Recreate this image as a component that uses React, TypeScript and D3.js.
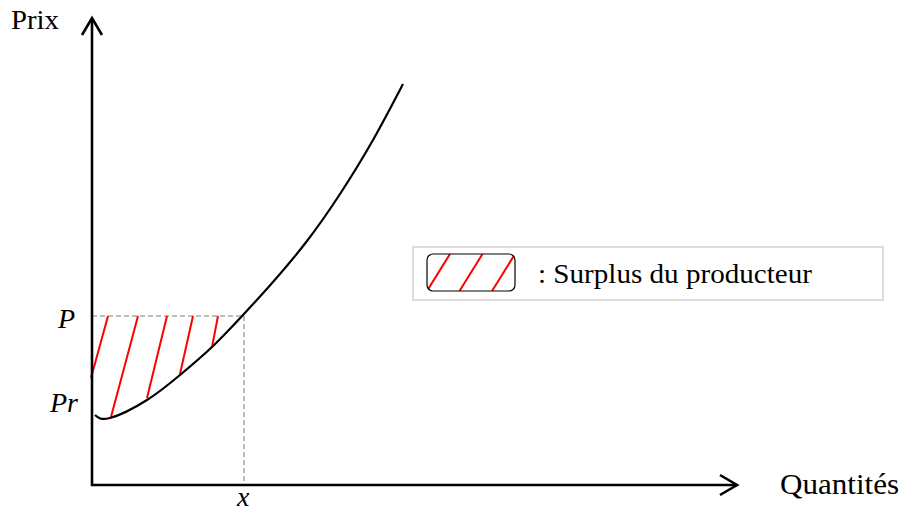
import React from "react";
import * as d3 from "d3";

// Supply curve (quantity, price) in chart units
const curveQ = [3, 18, 55, 88, 120, 151, 181, 215, 248, 281, 311];
const curveP = [70, 67, 85, 110, 138, 170, 203, 244, 291, 345, 401];

// Equilibrium
const priceP = 169;
const quantityX = 152;

// Hatching segments (top on price P, bottom on the curve / axis)
const hatchTopQ = [16, 46, 75, 101, 126];
const hatchBotQ = [-1, 19, 55, 88, 120];
const hatchBotP = [107, 68, 87, 111, 138];

// Labels
const yAxisLabel = "Prix";
const xAxisLabel = "Quantités";
const labelP = "P";
const labelPr = "Pr";
const labelX = "x";
const legendLabel = ": Surplus du producteur";
const labelPrPrice = 72;

const W = 902;
const H = 513;

export default function App() {
  const x = d3.scaleLinear().domain([0, 645]).range([92, 737]);
  const y = d3.scaleLinear().domain([0, 467]).range([485, 18]);

  const pts: [number, number][] = curveQ.map((q, i) => [q, curveP[i]]);
  const line = d3
    .line<[number, number]>()
    .x((d) => x(d[0]))
    .y((d) => y(d[1]))
    .curve(d3.curveNatural);

  const serif = "'Liberation Serif', 'Times New Roman', Times, serif";
  const x0 = x(0);
  const y0 = y(0);
  const xEnd = x(645);
  const yEnd = y(467);

  // legend geometry
  const lg = { x: 413, y: 247, w: 470, h: 53 };
  const sw = { x: 427, y: 254, w: 88, h: 37 };
  const swLines = [0, 1, 2].map((i) => ({
    x1: sw.x + i * 32.5,
    y1: sw.y + sw.h,
    x2: sw.x + 23 + i * 32.5,
    y2: sw.y,
  }));

  return (
    <svg
      width={W}
      height={H}
      style={{ position: "absolute", left: 0, top: 0, background: "#fff" }}
    >
      <defs>
        <clipPath id="swclip">
          <rect x={sw.x} y={sw.y} width={sw.w} height={sw.h} rx={6} />
        </clipPath>
      </defs>

      {/* dashed guides */}
      <line
        x1={x0}
        x2={x(quantityX)}
        y1={y(priceP)}
        y2={y(priceP)}
        stroke="#aaa"
        strokeWidth={1.6}
        strokeDasharray="5,3"
      />
      <line
        x1={x(quantityX)}
        x2={x(quantityX)}
        y1={y(priceP)}
        y2={y0}
        stroke="#aaa"
        strokeWidth={1.6}
        strokeDasharray="5,3"
      />

      {/* hatching */}
      {hatchTopQ.map((q, i) => (
        <line
          key={i}
          x1={x(q)}
          y1={y(priceP)}
          x2={x(hatchBotQ[i])}
          y2={y(hatchBotP[i])}
          stroke="#ff0000"
          strokeWidth={2}
        />
      ))}

      {/* curve */}
      <path d={line(pts) || ""} fill="none" stroke="#000" strokeWidth={2.2} />

      {/* axes */}
      <line x1={x0} x2={x0} y1={y0 + 1} y2={yEnd} stroke="#000" strokeWidth={2.6} />
      <line x1={x0 - 1} x2={xEnd} y1={y0} y2={y0} stroke="#000" strokeWidth={2.6} />
      <polyline
        points={`${x0 - 10},${yEnd + 17} ${x0},${yEnd} ${x0 + 10},${yEnd + 17}`}
        fill="none"
        stroke="#000"
        strokeWidth={2.6}
      />
      <polyline
        points={`${xEnd - 17},${y0 - 10} ${xEnd},${y0} ${xEnd - 17},${y0 + 10}`}
        fill="none"
        stroke="#000"
        strokeWidth={2.6}
      />

      {/* axis labels */}
      <text x={11} y={29} fontFamily={serif} fontSize={28} textLength={48} lengthAdjust="spacingAndGlyphs">
        {yAxisLabel}
      </text>
      <text x={780} y={494} fontFamily={serif} fontSize={30} textLength={119} lengthAdjust="spacingAndGlyphs">
        {xAxisLabel}
      </text>
      <text x={x0 - 34} y={y(priceP) + 12} fontFamily={serif} fontSize={28} fontStyle="italic">
        {labelP}
      </text>
      <text x={x0 - 42} y={y(labelPrPrice) - 1} fontFamily={serif} fontSize={28} fontStyle="italic">
        {labelPr}
      </text>
      <text x={x(quantityX) - 7} y={506} fontFamily={serif} fontSize={28} fontStyle="italic">
        {labelX}
      </text>

      {/* legend */}
      <rect x={lg.x} y={lg.y} width={lg.w} height={lg.h} fill="#fff" stroke="#ddd" strokeWidth={2} />
      <g clipPath="url(#swclip)">
        {swLines.map((l, i) => (
          <line key={i} {...l} stroke="#ff0000" strokeWidth={2} />
        ))}
      </g>
      <rect x={sw.x} y={sw.y} width={sw.w} height={sw.h} rx={6} fill="none" stroke="#000" strokeWidth={1.2} />
      <text x={538} y={283} fontFamily={serif} fontSize={27} textLength={274} lengthAdjust="spacingAndGlyphs">
        {legendLabel}
      </text>
    </svg>
  );
}
